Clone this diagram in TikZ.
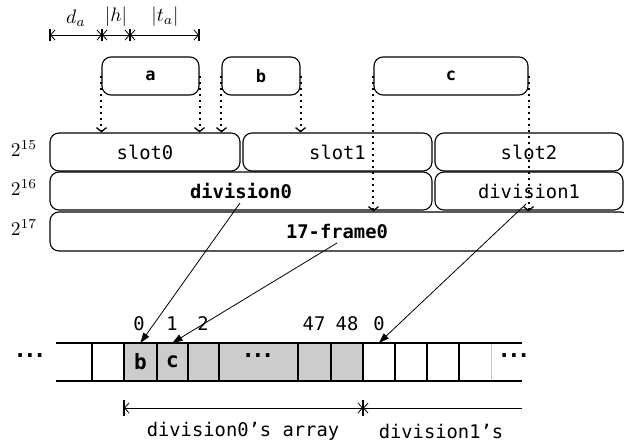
\documentclass[tikz,border=0pt]{standalone}
\usepackage{graphicx}
\usepackage{fontspec}
\setmonofont{DejaVu Sans Mono}
\usetikzlibrary{arrows.meta}
\newcommand\monofs{\ttfamily\fontsize{18.8}{21}\selectfont}
\newcommand\bigmath[1]{\scalebox{1.95}{$#1$}}
\tikzset{
  row/.style={draw, rounded corners=9pt, line width=1.1pt, inner sep=0pt, minimum height=38pt, font=\monofs},
  tbox/.style={draw, rounded corners=9pt, line width=1.1pt, inner sep=0pt, minimum height=38pt, font=\ttfamily\bfseries\fontsize{17}{19}\selectfont},
  dotarr/.style={line width=2pt, dash pattern=on 2pt off 4pt, -{Straight Barb[length=4pt,width=10pt,line width=1.3pt]}},
  dimtick/.style={line width=1.2pt},
  dimboth/.style={line width=0.8pt, {Straight Barb[length=4.5pt,width=10pt]}-{Straight Barb[length=4.5pt,width=10pt]}},
  dimstart/.style={line width=0.8pt, {Straight Barb[length=4.5pt,width=10pt]}-},
  ptr/.style={line width=0.8pt, -{Triangle[length=10pt,width=7pt]}},
  idx/.style={font=\monofs, inner sep=0pt},
  cell/.style={inner sep=0pt, minimum width=32pt, minimum height=38pt, font=\ttfamily\bfseries\fontsize{21}{23}\selectfont},
  mlabel/.style={inner sep=0pt},
  dots/.style={font=\ttfamily\bfseries\fontsize{22}{24}\selectfont, inner sep=0pt}
}
\newcommand\dotsthree{.\kern-3.4pt.\kern-3.4pt.}
\begin{document}
\begin{tikzpicture}[x=1pt,y=-1pt]
\useasboundingbox (0,0) rectangle (624,445);
\clip (0,0) rectangle (624,445);

% dimension marks on top
\coordinate (m0) at (50,35);
\coordinate (m1) at (102,35);
\coordinate (m2) at (130,35);
\coordinate (m3) at (199,35);
\foreach \m in {m0,m1,m2,m3} \draw[dimtick] ([yshift=6pt]\m) -- ([yshift=-6pt]\m);
\draw[dimboth] (m0) -- (m1);
\draw[dimboth] (m1) -- (m2);
\draw[dimboth] (m2) -- (m3);
\node[mlabel] (lda) at (76,18) {\bigmath{d_a}};
\node[mlabel] (lh) at (116,17) {\bigmath{|h|}};
\node[mlabel] (lta) at (165,17) {\bigmath{|t_a|}};

% top boxes
\node[tbox, minimum width=97pt] (a) at (150.5,76) {a};
\node[tbox, minimum width=78pt] (b) at (261,76) {b};
\node[tbox, minimum width=154pt] (c) at (451,76) {c};

% rows
\node[row, minimum width=190pt] (slot0) at (145,152) {slot0};
\node[row, minimum width=189pt] (slot1) at (337.5,152) {slot1};
\node[row, minimum width=188pt] (slot2) at (529,152) {slot2};
\node[row, minimum width=382pt] (div0) at (241,191) {\bfseries division0};
\node[row, minimum width=188pt] (div1) at (529,191) {division1};
\node[row, minimum width=580pt, minimum height=39pt] (frame) at (340,231.5) {};
\node[font=\monofs\bfseries, inner sep=0pt] (frametxt) at (337,231) {17-frame0};

\node[mlabel] (e15) at (24,149) {\bigmath{2^{15}}};
\node[mlabel] (e16) at (24,188) {\bigmath{2^{16}}};
\node[mlabel] (e17) at (24,228) {\bigmath{2^{17}}};

% dotted projections
\draw[dotarr] (a.west) -- (a.west |- slot0.north);
\draw[dotarr] (a.east) -- (a.east |- slot0.north);
\draw[dotarr] (b.west) -- (b.west |- slot0.north);
\draw[dotarr] (b.east) -- (b.east |- slot1.north);
\draw[dotarr] (c.west) -- (c.west |- frame.north);
\draw[dotarr] (c.east) -- (c.east |- frame.north);

% array
\fill[black!20] (124,343) rectangle (363,381);
\foreach \x in {92,124,157,188,219,298,331,363,395,427,459}
  \draw[line width=1.2pt] (\x,343) -- (\x,381);
\draw[black!22, line width=0.8pt] (491,343) -- (491,381);
\draw[line width=1.8pt] (56,343) -- (522,343);
\draw[line width=1.8pt] (56,381) -- (522,381);

\node[cell] (cb) at (140.5,362) {b};
\node[cell] (cc) at (172.5,362) {c};
\node[cell] (cd1) at (379,362) {};
\node[dots] (dl) at (30,356) {\dotsthree};
\node[dots] (dm) at (258,356) {\dotsthree};
\node[dots] (dr) at (514,356) {\dotsthree};

% indices
\node[idx] (i0) at (139,324) {0};
\node[idx] (i1) at (172,324) {1};
\node[idx] (i2) at (203,324) {2};
\node[idx] (i47) at (314,324) {47};
\node[idx] (i48) at (347,324) {48};
\node[idx] (i0b) at (379,324) {0};

% pointers
\coordinate (s0) at (240,203);
\coordinate (s1) at (337,243);
\coordinate (s2) at (526,204);
\draw[ptr] (s0) -- (cb.north);
\draw[ptr] (s1) -- (cc.north);
\draw[ptr] (s2) -- (cd1.north);

% bottom dimension
\coordinate (n0) at (124,408);
\coordinate (n1) at (363,408);
\coordinate (n2) at (522,408);
\foreach \m in {n0,n1} \draw[dimtick] ([yshift=8pt]\m) -- ([yshift=-8pt]\m);
\draw[dimboth] (n0) -- (n1);
\draw[dimstart] (n1) -- (n2);
\node[font=\monofs, inner sep=0pt] (l0) at (243,431) {division0’s array};
\node[font=\monofs, inner sep=0pt] (l1) at (441,431) {division1’s};
\end{tikzpicture}
\end{document}
